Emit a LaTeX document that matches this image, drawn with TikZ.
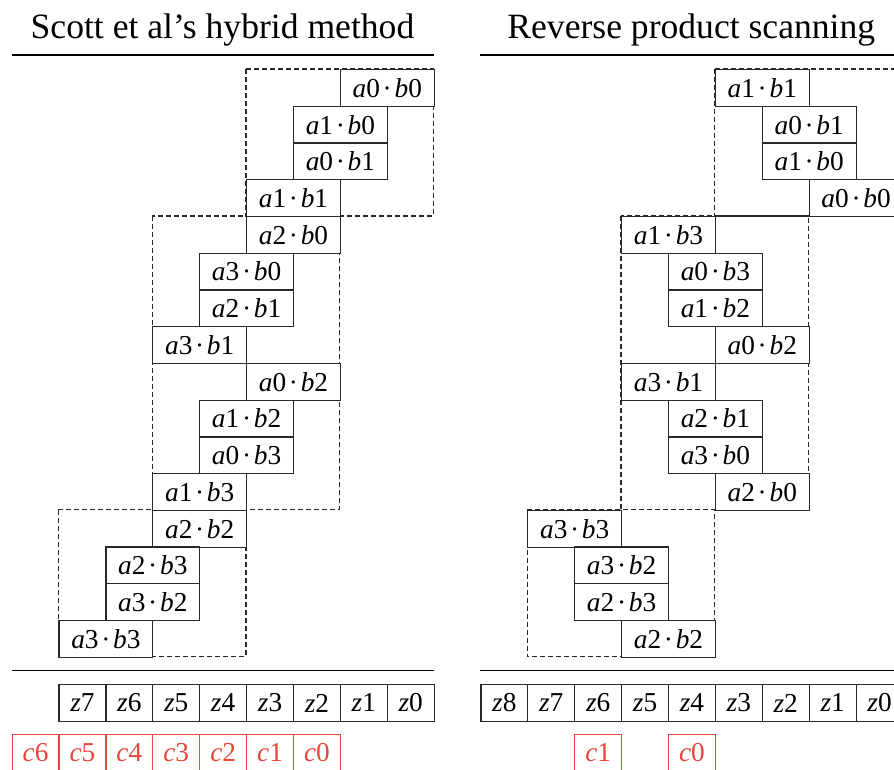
\documentclass[tikz,border=0pt]{standalone}
\usepackage{fontspec}
\setmainfont{Liberation Serif}
\definecolor{linegray}{RGB}{40,40,40}
\definecolor{cred}{RGB}{228,72,60}
\newcommand\boxfont{\fontsize{20.5pt}{24pt}\selectfont}
\newcommand\titlefont{\fontsize{26.7pt}{32pt}\selectfont}
\newcommand\prd[2]{\textit{a}#1\hspace{0.1em}·\hspace{0.1em}\textit{b}#2}
\tikzset{
  pbox/.style={draw=linegray, fill=white, line width=0.9pt, minimum width=70.35pt,
    minimum height=27.55pt, inner sep=0pt, anchor=north west, font=\boxfont},
  zbox/.style={pbox, minimum width=35.175pt},
  cbox/.style={zbox, draw=cred, text=cred},
  dbox/.style={draw=linegray, line width=0.9pt, dash pattern=on 3.75pt off 2.25pt},
  rulel/.style={line width=0.9pt, draw=black},
  ttl/.style={anchor=base, font=\titlefont, inner sep=0pt}
}
\begin{document}
\begin{tikzpicture}[x=0.75pt, y=-0.75pt]
\useasboundingbox (0,0) rectangle (894,769);
% titles
\node[ttl] (tl) at (222.5,38.3) {Scott et al’s hybrid method};
\node[ttl] (tr) at (691.3,38.3) {Reverse product scanning};
% rules
\coordinate (la) at (11.5,55); \coordinate (lb) at (433.6,55);
\coordinate (ra) at (480.3,55); \coordinate (rb) at (902.4,55);
\coordinate (lc) at (11.5,670.7); \coordinate (ld) at (433.6,670.7);
\coordinate (rc) at (480.3,670.7); \coordinate (rd) at (902.4,670.7);
\draw[rulel] (la) -- (lb);
\draw[rulel] (ra) -- (rb);
\draw[rulel] (lc) -- (ld);
\draw[rulel] (rc) -- (rd);
% dashed groups, left
\draw[dbox] ({11.5+5*46.9},69) rectangle ({11.5+9*46.9},{69+4*36.73});
\draw[dbox] ({11.5+3*46.9},{69+4*36.73}) rectangle ({11.5+7*46.9},{69+12*36.73});
\draw[dbox] ({11.5+1*46.9},{69+12*36.73}) rectangle ({11.5+5*46.9},{69+16*36.73});
% dashed groups, right
\draw[dbox] ({480.3+5*46.9},69) rectangle ({480.3+9*46.9},{69+4*36.73});
\draw[dbox] ({480.3+3*46.9},{69+4*36.73}) rectangle ({480.3+7*46.9},{69+12*36.73});
\draw[dbox] ({480.3+1*46.9},{69+12*36.73}) rectangle ({480.3+5*46.9},{69+16*36.73});
% products, left
\foreach \r/\k/\i/\j in {0/7/0/0, 1/6/1/0, 2/6/0/1, 3/5/1/1, 4/5/2/0, 5/4/3/0, 6/4/2/1, 7/3/3/1,
  8/5/0/2, 9/4/1/2, 10/4/0/3, 11/3/1/3, 12/3/2/2, 13/2/2/3, 14/2/3/2, 15/1/3/3}
  \node[pbox] (L\i\j) at ({11.5+\k*46.9},{69+\r*36.73}) {\prd{\i}{\j}};
% products, right
\foreach \r/\k/\i/\j in {0/5/1/1, 1/6/0/1, 2/6/1/0, 3/7/0/0, 4/3/1/3, 5/4/0/3, 6/4/1/2, 7/5/0/2,
  8/3/3/1, 9/4/2/1, 10/4/3/0, 11/5/2/0, 12/1/3/3, 13/2/3/2, 14/2/2/3, 15/3/2/2}
  \node[pbox] (R\i\j) at ({480.3+\k*46.9},{69+\r*36.73}) {\prd{\i}{\j}};
% z rows
\foreach \n in {0,...,7}
  \node[zbox] (Lz\n) at ({11.5+(8-\n)*46.9},684) {\textit{z}\n};
\foreach \n in {0,...,8}
  \node[zbox] (Rz\n) at ({480.3+(8-\n)*46.9},684) {\textit{z}\n};
% c rows
\foreach \n in {0,...,6}
  \node[cbox] (Lc\n) at ({11.5+(6-\n)*46.9},734) {\textit{c}\n};
\node[cbox] (Rc1) at ({480.3+2*46.9},734) {\textit{c}1};
\node[cbox] (Rc0) at ({480.3+4*46.9},734) {\textit{c}0};
\end{tikzpicture}
\end{document}
